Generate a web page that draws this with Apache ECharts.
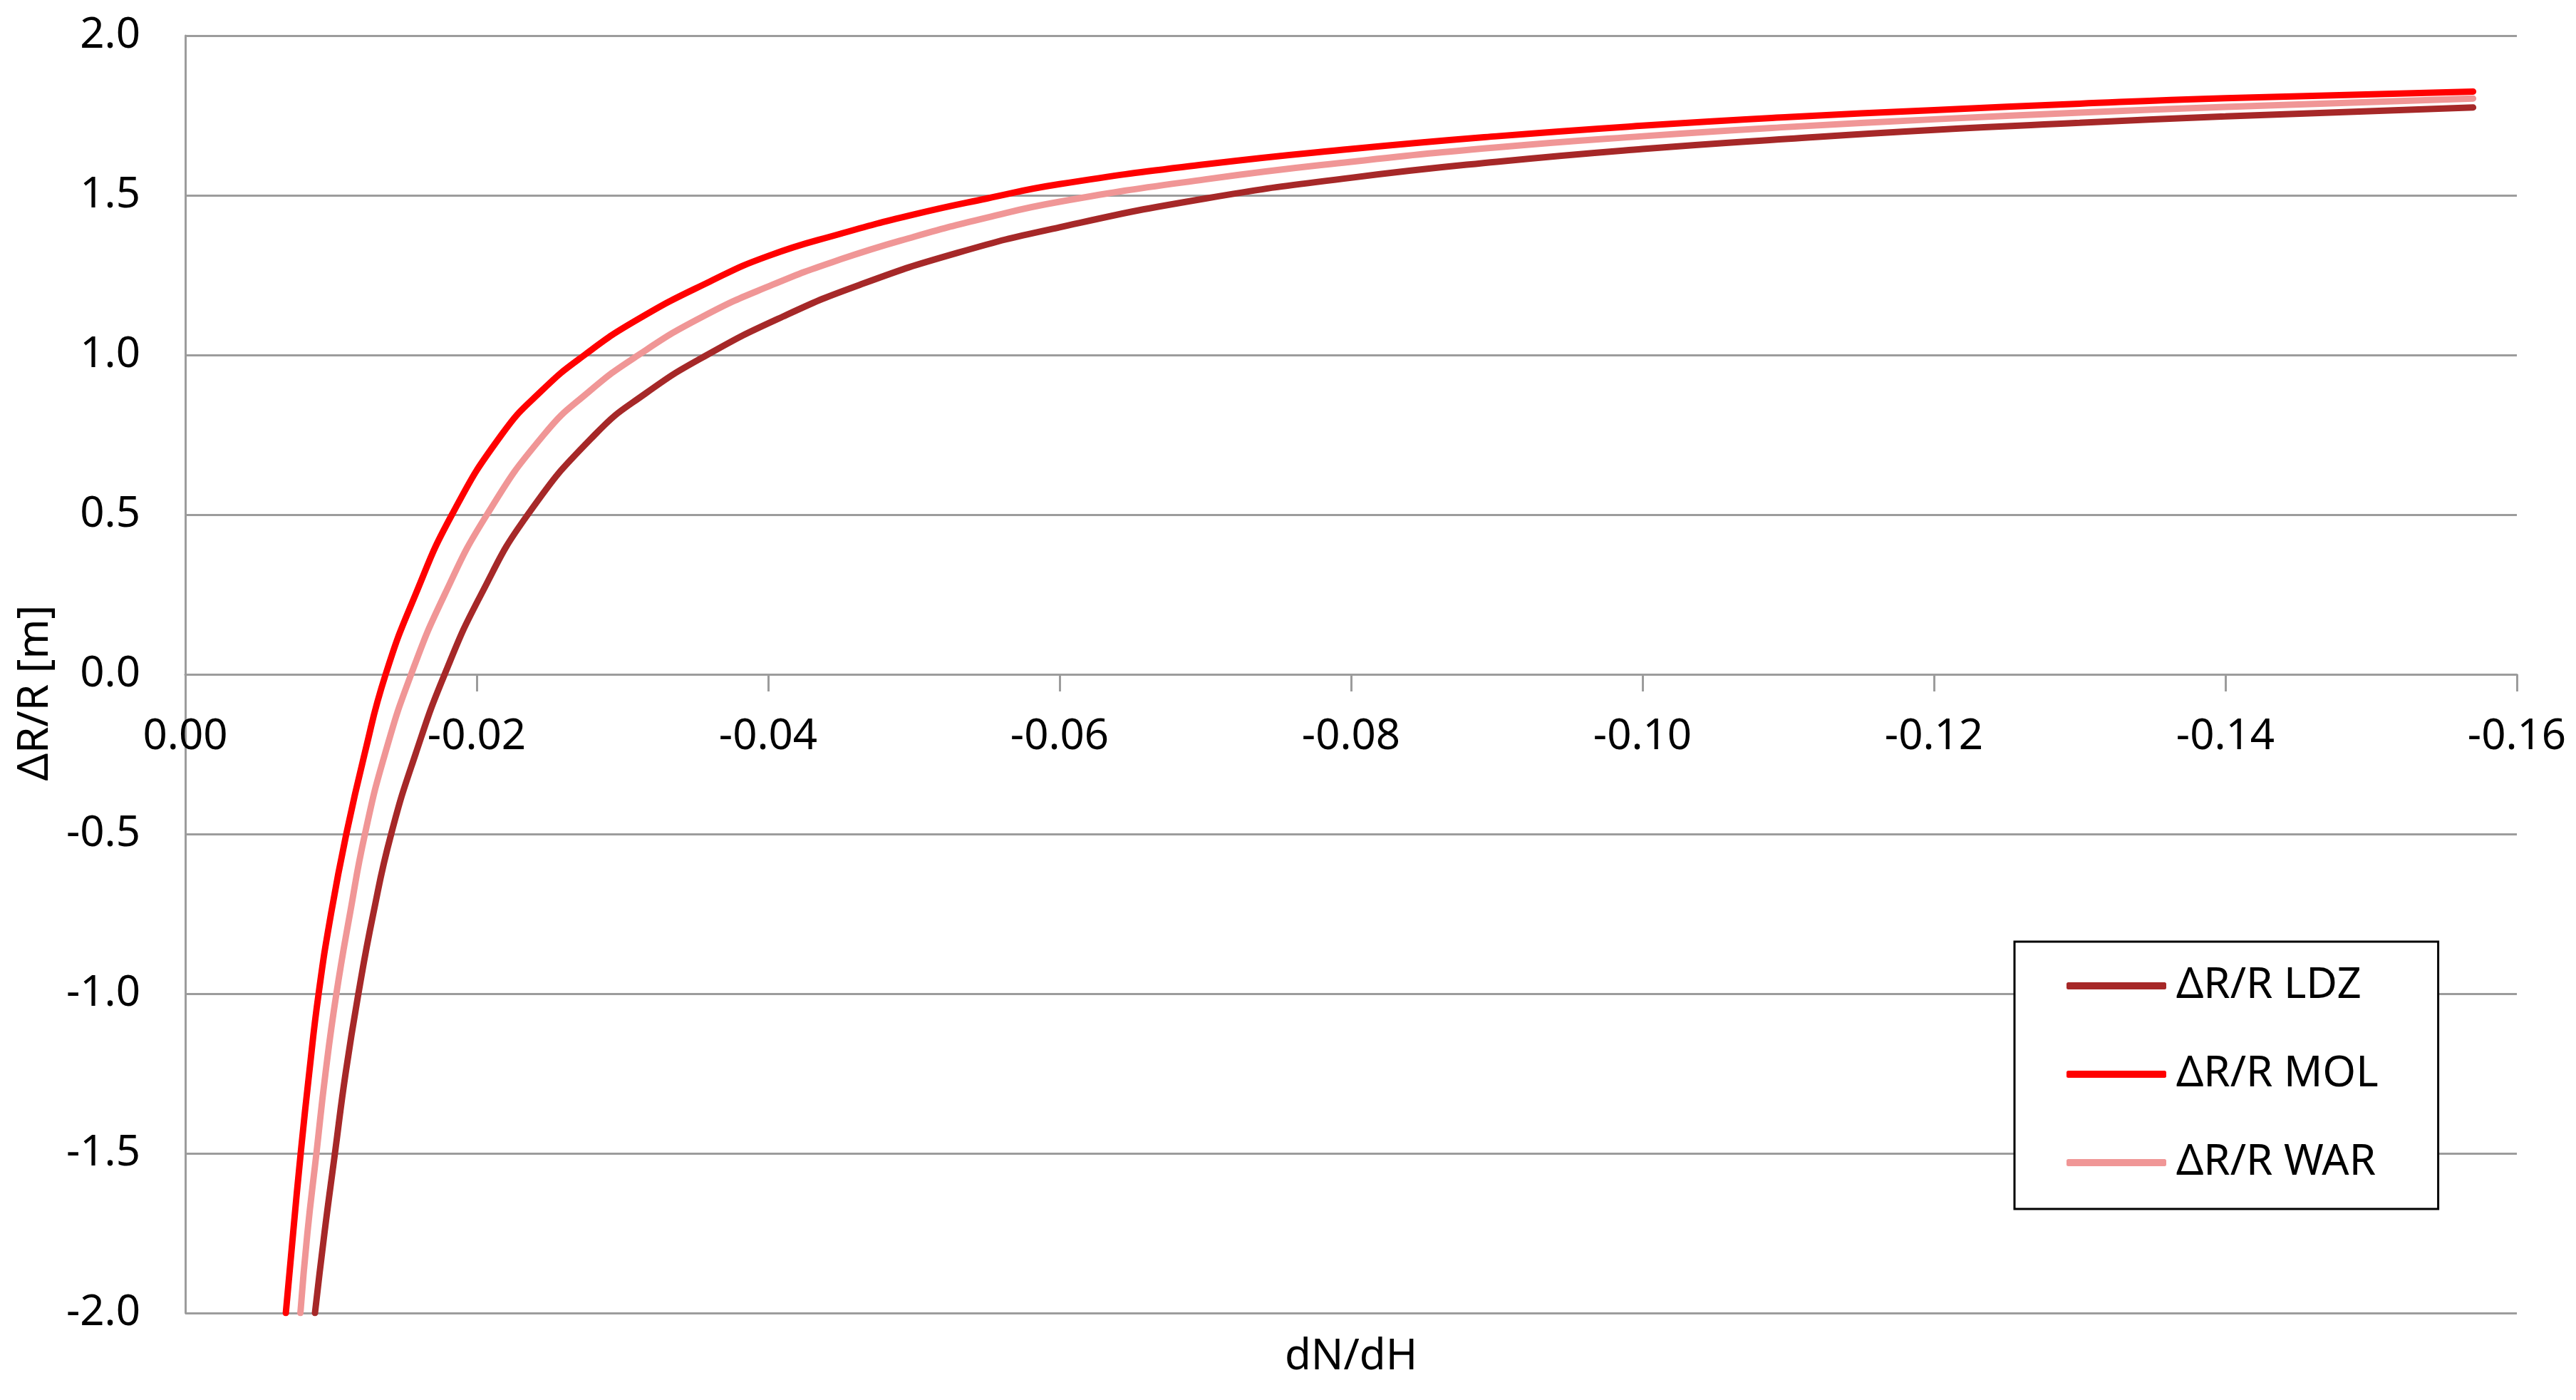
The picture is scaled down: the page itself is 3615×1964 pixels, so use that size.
<!DOCTYPE html>
<html>
<head>
<meta charset="utf-8">
<script src="https://cdn.jsdelivr.net/npm/echarts@6/dist/echarts.min.js"></script>
<style>
html,body{margin:0;padding:0;background:#fff;}
#chart{width:3615px;height:1964px;}
</style>
</head>
<body>
<div id="chart"></div>
<script>
// ---- data ----
const seriesNames = ['ΔR/R LDZ', 'ΔR/R MOL', 'ΔR/R WAR'];
const xTickMin = -0.16, xTickMax = 0, xTickStep = 0.02;
const yTickMin = -2, yTickMax = 2, yTickStep = 0.5;

const ldzX = [-0.0089, -0.00955, -0.01027, -0.0110, -0.01188, -0.0129, -0.01413, -0.0158, -0.0178, -0.0203, -0.0235, -0.0281, -0.0316, -0.0358, -0.041, -0.0463, -0.053, -0.06, -0.07, -0.08, -0.09, -0.10, -0.11, -0.12, -0.13, -0.14, -0.157];
const ldzY = [-2.0, -1.75, -1.5, -1.25, -1.0, -0.75, -0.5, -0.25, 0.0, 0.25, 0.5, 0.75, 0.88, 1.0, 1.12, 1.22, 1.32, 1.40, 1.49, 1.555, 1.605, 1.645, 1.677, 1.705, 1.727, 1.747, 1.775];

const molX = [-0.0069, -0.0074, -0.00792, -0.0085, -0.00915, -0.0100, -0.01105, -0.0123, -0.01375, -0.0158, -0.0183, -0.0217, -0.0245, -0.0274, -0.031, -0.036, -0.04, -0.045, -0.05, -0.055, -0.06, -0.07, -0.08, -0.09, -0.10, -0.11, -0.12, -0.13, -0.14, -0.157];
const molY = [-2.0, -1.75, -1.5, -1.25, -1.0, -0.75, -0.5, -0.25, 0.0, 0.25, 0.5, 0.75, 0.89, 1.0, 1.11, 1.23, 1.31, 1.38, 1.44, 1.49, 1.535, 1.597, 1.645, 1.685, 1.718, 1.745, 1.767, 1.787, 1.804, 1.825];

const warX = [-0.0079, -0.00838, -0.0090, -0.00962, -0.01037, -0.0113, -0.01233, -0.0137, -0.0155, -0.0178, -0.0207, -0.0246, -0.0277, -0.0311, -0.0355, -0.0403, -0.045, -0.05, -0.055, -0.06, -0.07, -0.08, -0.09, -0.10, -0.11, -0.12, -0.13, -0.14, -0.157];
const warY = [-2.0, -1.75, -1.5, -1.25, -1.0, -0.75, -0.5, -0.25, 0.0, 0.25, 0.5, 0.75, 0.885, 1.0, 1.12, 1.22, 1.30, 1.37, 1.43, 1.48, 1.55, 1.605, 1.65, 1.685, 1.714, 1.738, 1.759, 1.777, 1.803];

const colors = ['#A62828', '#FF0000', '#F09696'];

function pairs(xs, ys) { return xs.map((x, i) => [x, ys[i]]); }

const FONT = '"Noto Sans", "Open Sans", sans-serif';
const GRID_COLOR = '#9c9c9c';

const GRID_TOP = 50, GRID_BOTTOM = 122, CHART_H = 1964;

const chart = echarts.init(document.getElementById('chart'), null, {renderer: 'canvas'});

const dataSets = [pairs(ldzX, ldzY), pairs(molX, molY), pairs(warX, warY)];

// distance (px) from the grid bottom up to the y = 0 line, so the x axis sits on zero
const plotH = CHART_H - GRID_TOP - GRID_BOTTOM;
const zeroOffset = -plotH * (0 - yTickMin) / (yTickMax - yTickMin);

chart.setOption({
  animation: false,
  backgroundColor: '#ffffff',
  grid: {left: 260, right: 83, top: GRID_TOP, bottom: GRID_BOTTOM, containLabel: false, outerBoundsMode: 'none'},
  legend: {
    orient: 'vertical',
    left: 2827,
    top: 1321,
    padding: [32, 84, 35, 73],
    borderColor: '#000',
    borderWidth: 3,
    backgroundColor: '#fff',
    icon: 'roundRect',
    itemWidth: 140,
    itemHeight: 10,
    itemGap: 64,
    textStyle: {fontFamily: FONT, fontSize: 60, color: '#000', padding: [0, 0, 0, 9]},
    data: seriesNames
  },
  xAxis: {
    type: 'value',
    position: 'bottom',
    offset: zeroOffset,
    min: xTickMin,
    max: xTickMax,
    interval: xTickStep,
    inverse: true,
    name: 'dN/dH',
    nameLocation: 'middle',
    nameGap: 928,
    nameTextStyle: {fontFamily: FONT, fontSize: 60, color: '#000'},
    axisLine: {show: true, onZero: false, lineStyle: {color: GRID_COLOR, width: 3}},
    axisTick: {show: true, length: 24, inside: false, lineStyle: {color: GRID_COLOR, width: 3}},
    axisLabel: {
      margin: 58,
      fontFamily: FONT, fontSize: 60, color: '#000',
      formatter: v => v.toFixed(2)
    },
    splitLine: {show: false}
  },
  yAxis: {
    type: 'value',
    min: yTickMin,
    max: yTickMax,
    interval: yTickStep,
    name: 'ΔR/R [m]',
    nameLocation: 'middle',
    nameRotate: 90,
    nameGap: 180,
    nameTextStyle: {fontFamily: FONT, fontSize: 60, color: '#000', padding: [0, 52, 0, 0]},
    axisLine: {show: true, onZero: false, lineStyle: {color: GRID_COLOR, width: 3}},
    axisTick: {show: false},
    axisLabel: {
      margin: 63,
      fontFamily: FONT, fontSize: 60, color: '#000',
      formatter: v => v.toFixed(1)
    },
    splitLine: {show: true, lineStyle: {color: GRID_COLOR, width: 3}}
  },
  series: seriesNames.map((name, i) => ({
    name: name,
    type: 'line',
    data: dataSets[i],
    smooth: 0.5,
    showSymbol: false,
    symbol: 'none',
    clip: true,
    color: colors[i],
    lineStyle: {color: colors[i], width: 9, cap: 'round'},
    z: i === 1 ? 4 : 3
  }))
});
</script>
</body>
</html>
